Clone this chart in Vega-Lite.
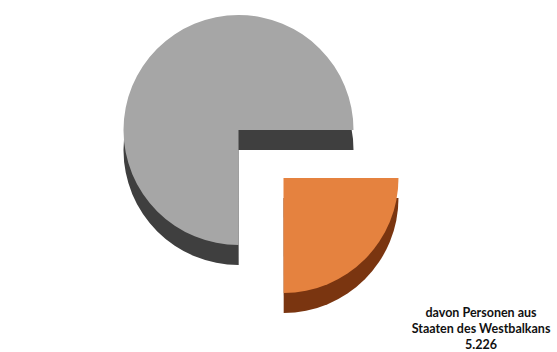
{
  "$schema": "https://vega.github.io/schema/vega-lite/v6.json",
  "width": 557,
  "height": 352,
  "autosize": {"type": "fit", "contains": "padding"},
  "background": "white",
  "config": {"view": {"stroke": null}},
  "data": {
    "values": [
      {"kategorie": "Gesamt", "wert": 15700, "label": ""},
      {"kategorie": "Westbalkan", "wert": 5226, "label": "davon Personen aus\nStaaten des Westbalkans\n5.226"}
    ]
  },
  "encoding": {
    "theta": {"field": "wert", "type": "quantitative", "stack": true, "scale": {"range": [1.5708, 7.854]}},
    "order": {"field": "kategorie", "sort": "descending"}
  },
  "layer": [
    {
      "mark": {"type": "arc", "outerRadius": 115, "xOffset": -40, "yOffset": -26},
      "encoding": {
        "fill": {"condition": {"test": "datum.kategorie === 'Westbalkan'", "value": "transparent"}, "value": "#3f3f3f"}
      }
    },
    {
      "mark": {"type": "arc", "outerRadius": 115, "xOffset": -40, "yOffset": -46},
      "encoding": {
        "fill": {"condition": {"test": "datum.kategorie === 'Westbalkan'", "value": "transparent"}, "value": "#a6a6a6"}
      }
    },
    {
      "mark": {"type": "arc", "outerRadius": 115, "xOffset": 5, "yOffset": 22},
      "encoding": {
        "fill": {"condition": {"test": "datum.kategorie === 'Gesamt'", "value": "transparent"}, "value": "#7a3510"}
      }
    },
    {
      "mark": {"type": "arc", "outerRadius": 115, "xOffset": 5, "yOffset": 2},
      "encoding": {
        "fill": {"condition": {"test": "datum.kategorie === 'Gesamt'", "value": "transparent"}, "value": "#e5823f"}
      }
    },
    {
      "mark": {"type": "text", "radius": 200, "xOffset": 61, "yOffset": -4, "lineBreak": "\n", "font": "Lato", "fontWeight": "bold", "fontSize": 12.5, "color": "#111111", "align": "center", "baseline": "middle", "lineHeight": 16},
      "encoding": {
        "text": {"field": "label", "type": "nominal"}
      }
    }
  ]
}
